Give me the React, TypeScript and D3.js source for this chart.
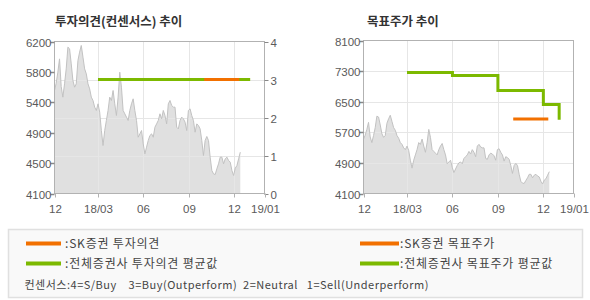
import React from "react";
import * as d3 from "d3";

// ---------- data ----------
const priceValues = [
  5523, 5624, 5776, 5960, 5578, 5431, 5615, 5822, 6122, 6099, 5891, 5661, 5569, 5615, 5937, 6053,
  6145, 5984, 5822, 5753, 5615, 5546, 5431, 5385, 5293, 5247, 5339, 5224, 4970, 4763, 4970, 5109,
  5247, 5431, 5385, 5523, 5339, 5178, 5431, 5776, 5569, 5247, 5201, 5155, 5109, 5247, 5339, 5408,
  5247, 5109, 4878, 4924, 4970, 4786, 4648, 4740, 4832, 4901, 4924, 4878, 5016, 5062, 5109, 5201,
  5132, 5247, 5178, 5062, 5339, 5385, 5316, 5293, 5293, 5016, 4993, 5109, 5155, 5132, 5086, 4970,
  5247, 5270, 5178, 5109, 4947, 5062, 5039, 4993, 4832, 4625, 4832, 4888, 4832, 4602, 4418, 4372,
  4362, 4441, 4510, 4602, 4602, 4510, 4579, 4602, 4556, 4533, 4418, 4349, 4450, 4487, 4579, 4671,
];
const priceStart = "2017-12-03";
const priceEnd = "2018-12-14";

const axisStart = "2017-12-03";
const axisEnd = "2019-02-01";
const xTickDates = ["2017-12-03", "2018-03-01", "2018-06-01", "2018-09-01", "2018-12-01", "2019-02-01"];
const xTickLabels = ["12", "18/03", "06", "09", "12", "19/01"];

// opinion chart
const opinionPriceTicks = [4100, 4520, 4940, 5360, 5780, 6200];
const opinionPriceLabels = ["4100", "4500", "4900", "5400", "5800", "6200"];
const opinionTicks = [0, 1, 2, 3, 4];
const avgOpinionDates = ["2018-03-01", "2019-01-03"];
const avgOpinionValues = [3, 3];
const skOpinionDates = ["2018-10-02", "2018-12-12"];
const skOpinionValues = [3, 3];

// target price chart
const targetTicks = [4100, 4900, 5700, 6500, 7300, 8100];
const avgTargetDates = ["2018-03-01", "2018-06-01", "2018-09-01", "2018-12-02", "2019-01-03"];
const avgTargetValues = [7262, 7185, 6795, 6430, 6030];
const skTargetDates = ["2018-10-02", "2018-12-12"];
const skTargetValues = [6050, 6050];

const titles = ["투자의견(컨센서스) 추이", "목표주가 추이"];
const legendLabels = [":SK증권 투자의견", ":전체증권사 투자의견 평균값", ":SK증권 목표주가", ":전체증권사 목표주가 평균값"];
const consensusNote = "컨센서스:4=S/Buy    3=Buy(Outperform)  2=Neutral   1=Sell(Underperform)";

// ---------- styles ----------
const ORANGE = "#f27000";
const GREEN = "#7cb900";
const BORDER = "#b2b2b2";
const GRID = "#e6e6e6";
const LABEL = "#5a5a5a";
const FONT = "'Liberation Sans', 'Noto Sans CJK KR', sans-serif";
const KFONT = "'Noto Sans CJK KR', 'Liberation Sans', sans-serif";

const parse = d3.timeParse("%Y-%m-%d");

type Panel = { x0: number; x1: number; y0: number; y1: number };

function Frame({ p, x, gridY }: any) {
  return (
    <g>
      {xTickDates.slice(1, -1).map((d, i) => (
        <line key={"vg" + i} x1={Math.round(x(parse(d))) + 0.5} x2={Math.round(x(parse(d))) + 0.5} y1={p.y0} y2={p.y1} stroke={GRID} />
      ))}
      {gridY.map((y: number, i: number) => (
        <line key={"hg" + i} x1={p.x0} x2={p.x1} y1={Math.round(y) + 0.5} y2={Math.round(y) + 0.5} stroke={GRID} />
      ))}
    </g>
  );
}

function Border({ p, x, leftTicks, leftLabels, yLeft, rightTicks, yRight }: any) {
  return (
    <g fontFamily={FONT} fontSize={11.5} fill={LABEL}>
      <rect x={p.x0} y={p.y0} width={p.x1 - p.x0} height={p.y1 - p.y0} fill="none" stroke={BORDER} />
      {leftTicks.map((t: number, i: number) => {
        const y = Math.round(yLeft(t)) + 0.5;
        return (
          <g key={"l" + i}>
            <line x1={p.x0 - 4} x2={p.x0} y1={y} y2={y} stroke="#888" strokeWidth={1.5} />
            <text x={p.x0 - 3} y={y + 4} textAnchor="end">{leftLabels[i]}</text>
          </g>
        );
      })}
      {rightTicks &&
        rightTicks.map((t: number, i: number) => {
          const y = Math.round(yRight(t)) + 0.5;
          return (
            <g key={"r" + i}>
              <line x1={p.x1} x2={p.x1 + 4} y1={y} y2={y} stroke="#888" />
              <text x={p.x1 + 6} y={y + 4}>{t}</text>
            </g>
          );
        })}
      {xTickDates.map((d, i) => {
        const xx = Math.round(x(parse(d))) + 0.5;
        return (
          <g key={"x" + i}>
            <line x1={xx} x2={xx} y1={p.y1} y2={p.y1 + 4} stroke={BORDER} />
            <text x={xx} y={p.y1 + 19} textAnchor="middle">{xTickLabels[i]}</text>
          </g>
        );
      })}
    </g>
  );
}

export default function App() {
  const left: Panel = { x0: 54.5, x1: 264.5, y0: 41.5, y1: 193.5 };
  const right: Panel = { x0: 363.5, x1: 573.5, y0: 40.5, y1: 193.5 };

  const s0 = parse(priceStart)!.getTime();
  const s1 = parse(priceEnd)!.getTime();
  const priceData = priceValues.map((v, i) => ({
    date: new Date(s0 + ((s1 - s0) * i) / (priceValues.length - 1)),
    v,
  }));

  const xL = d3.scaleTime().domain([parse(axisStart)!, parse(axisEnd)!]).range([left.x0, left.x1]);
  const xR = d3.scaleTime().domain([parse(axisStart)!, parse(axisEnd)!]).range([right.x0, right.x1]);

  const yPL = d3.scaleLinear().domain([4100, 6200]).range([left.y1, left.y0]);
  const yOp = d3.scaleLinear().domain([0, 4]).range([left.y1, left.y0]);
  const yPR = d3.scaleLinear().domain([4100, 8100]).range([right.y1, right.y0]);

  const areaL = d3.area<any>().x((d) => xL(d.date)).y0(left.y1).y1((d) => yPL(d.v));
  const lineL = d3.line<any>().x((d) => xL(d.date)).y((d) => yPL(d.v));
  const areaR = d3.area<any>().x((d) => xR(d.date)).y0(right.y1).y1((d) => yPR(d.v));
  const lineR = d3.line<any>().x((d) => xR(d.date)).y((d) => yPR(d.v));

  const opLine = d3.line<any>().x((d) => xL(d.date)).y((d) => yOp(d.v));
  const tgLine = d3.line<any>().x((d) => xR(d.date)).y((d) => yPR(d.v)).curve(d3.curveStepAfter);
  const tgFlat = d3.line<any>().x((d) => xR(d.date)).y((d) => yPR(d.v));

  const zip = (ds: string[], vs: number[]) => ds.map((d, i) => ({ date: parse(d)!, v: vs[i] }));

  return (
    <svg width={590} height={300} style={{ position: "absolute", left: 0, top: 0, background: "#fff" }}>
      <text x={55} y={26} fontFamily={KFONT} fontWeight="bold" fontSize={12.5} fill="#333">{titles[0]}</text>
      <text x={367} y={26} fontFamily={KFONT} fontWeight="bold" fontSize={12.5} fill="#333">{titles[1]}</text>

      <path d={areaL(priceData)!} fill="#e0e0e0" />
      <Frame p={left} x={xL} gridY={[1, 2, 3].map((t) => yOp(t))} />
      <path d={lineL(priceData)!} fill="none" stroke="#c2c2c2" strokeWidth={1} />
      <path d={opLine(zip(avgOpinionDates, avgOpinionValues))!} fill="none" stroke={GREEN} strokeWidth={3} />
      <path d={opLine(zip(skOpinionDates, skOpinionValues))!} fill="none" stroke={ORANGE} strokeWidth={3} />
      <Border p={left} x={xL} leftTicks={opinionPriceTicks} leftLabels={opinionPriceLabels} yLeft={yPL} rightTicks={opinionTicks} yRight={yOp} />

      <path d={areaR(priceData)!} fill="#e0e0e0" />
      <Frame p={right} x={xR} gridY={targetTicks.slice(1, -1).map((t) => yPR(t))} />
      <path d={lineR(priceData)!} fill="none" stroke="#c2c2c2" strokeWidth={1} />
      <path d={tgLine(zip(avgTargetDates, avgTargetValues))!} fill="none" stroke={GREEN} strokeWidth={3} />
      <path d={tgFlat(zip(skTargetDates, skTargetValues))!} fill="none" stroke={ORANGE} strokeWidth={3} />
      <Border p={right} x={xR} leftTicks={targetTicks} leftLabels={targetTicks.map(String)} yLeft={yPR} />

      <rect x={8.5} y={229.5} width={574} height={68} fill="#f9f9f9" stroke="#e0e0e0" strokeWidth={1.5} />
      <g fontFamily={KFONT} fontSize={12} fill="#444" letterSpacing={0.8}>
        <line x1={26} x2={61} y1={243.5} y2={243.5} stroke={ORANGE} strokeWidth={4} />
        <text x={65} y={248}>{legendLabels[0]}</text>
        <line x1={26} x2={61} y1={263.5} y2={263.5} stroke={GREEN} strokeWidth={4} />
        <text x={65} y={268}>{legendLabels[1]}</text>
        <line x1={360} x2={399} y1={243.5} y2={243.5} stroke={ORANGE} strokeWidth={4} />
        <text x={400} y={248}>{legendLabels[2]}</text>
        <line x1={360} x2={399} y1={263.5} y2={263.5} stroke={GREEN} strokeWidth={4} />
        <text x={400} y={268}>{legendLabels[3]}</text>
      </g>
      <text x={24.5} y={289} fontFamily={KFONT} fontSize={11} fill="#444" letterSpacing={0.5} xmlSpace="preserve" style={{ whiteSpace: "pre" }}>{consensusNote}</text>
    </svg>
  );
}
